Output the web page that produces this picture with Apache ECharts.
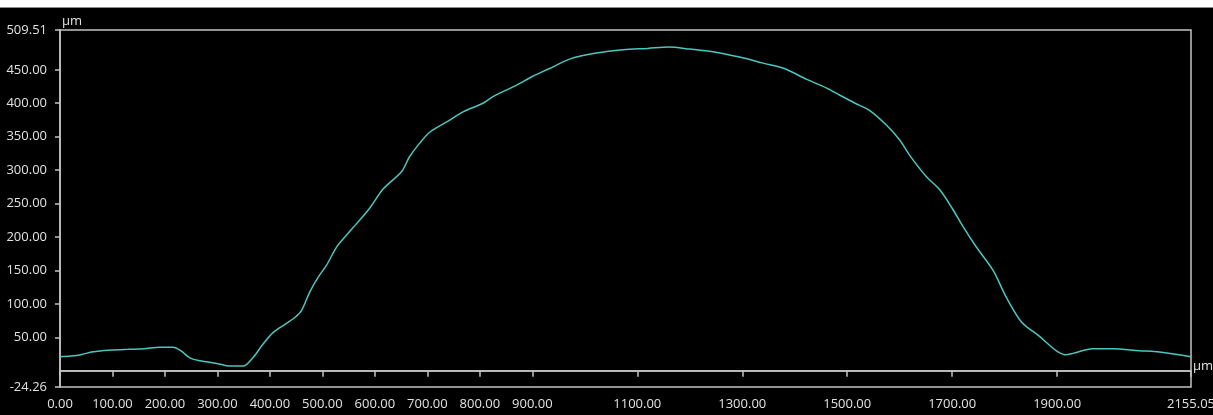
<!DOCTYPE html>
<html>
<head>
<meta charset="utf-8">
<title>Surface profile</title>
<script src="https://cdn.jsdelivr.net/npm/echarts@6/dist/echarts.min.js"></script>
<style>
  html, body { margin: 0; padding: 0; background: #000; }
  #topbar { position: absolute; left: 0; top: 0; width: 1213px; height: 7px; background: #fff; border-bottom: 1px solid #8a8a8a; }
  #chart { width: 1213px; height: 415px; }
</style>
</head>
<body>
<div id="chart"></div>
<div id="topbar"></div>
<script>
// Profile position along the scan (µm)
const positions = [
  0, 20, 40, 60, 80, 100, 130, 160, 190, 215, 230, 248, 267, 299, 324, 349,
  368, 387, 406, 430, 448, 460, 476, 492, 508, 527, 546, 565, 590, 616, 651,
  666, 685, 705, 737, 768, 806, 825, 870, 900, 933, 971, 1022, 1073, 1120,
  1160, 1200, 1244, 1295, 1340, 1380, 1422, 1460, 1486, 1515, 1543, 1575,
  1600, 1619, 1651, 1676, 1700, 1721, 1746, 1778, 1803, 1832, 1867, 1898,
  1916, 1930, 1968, 2006, 2057, 2095, 2155
];
// Measured height at each position (µm)
const heights = [
  21, 22, 24, 28, 30, 31, 32, 33, 35, 35, 30, 19, 15, 11, 7, 7,
  20, 40, 57, 70, 80, 90, 118, 140, 158, 185, 203, 220, 243, 272, 298,
  320, 340, 357, 372, 387, 400, 410, 427, 440, 452, 466, 475, 480, 482,
  484, 481, 477, 469, 460, 452, 436, 423, 412, 400, 389, 367,
  345, 322, 290, 271, 243, 215, 185, 150, 110, 73, 51, 30,
  24, 26, 33, 33, 30, 28, 21
];
// Axis tick values
const xTicks = [0, 100, 200, 300, 400, 500, 600, 700, 800, 900, 1100, 1300, 1500, 1700, 1900, 2155.05];
const yTicks = [-24.26, 50, 100, 150, 200, 250, 300, 350, 400, 450, 509.51];
const xMin = 0, xMax = 2155.05;
const yMin = -24.26, yMax = 509.51;

const chart = echarts.init(document.getElementById('chart'), null, { renderer: 'canvas' });
const axisGray = '#c4c4c4';
const labelStyle = { color: '#e2e2e2', fontFamily: 'Open Sans', fontSize: 13 };

chart.setOption({
  backgroundColor: '#000',
  animation: false,
  grid: {
    left: 60, right: 22, top: 30, bottom: 28,
    outerBoundsMode: 'none',
    containLabel: false,
    show: true, borderColor: axisGray, borderWidth: 1.5, backgroundColor: 'transparent'
  },
  xAxis: {
    type: 'value', min: xMin, max: xMax,
    name: 'µm', nameLocation: 'end', nameGap: 2,
    nameTextStyle: { color: '#e2e2e2', fontFamily: 'Open Sans', fontSize: 13, verticalAlign: 'bottom', padding: [0, 0, -2, 0] },
    axisLine: { show: true, lineStyle: { color: axisGray, width: 1.5 } },
    axisTick: { show: true, customValues: xTicks, length: 6, lineStyle: { color: axisGray, width: 1.5 } },
    axisLabel: Object.assign({ customValues: xTicks, margin: 11, hideOverlap: false,
      formatter: v => Number(v).toFixed(2) }, labelStyle),
    splitLine: { show: false }
  },
  yAxis: {
    type: 'value', min: yMin, max: yMax,
    name: 'µm', nameLocation: 'end', nameGap: 2,
    nameTextStyle: { color: '#e2e2e2', fontFamily: 'Open Sans', fontSize: 13, align: 'left', padding: [0, 0, 0, 2] },
    axisLine: { show: true, lineStyle: { color: axisGray, width: 1.5 } },
    axisTick: { show: true, customValues: yTicks, length: 5, lineStyle: { color: axisGray, width: 1.5 } },
    axisLabel: Object.assign({ customValues: yTicks, margin: 13, hideOverlap: false,
      formatter: v => Number(v).toFixed(2) }, labelStyle),
    splitLine: { show: false }
  },
  series: [{
    type: 'line',
    data: positions.map((x, i) => [x, heights[i]]),
    smooth: 0.3,
    symbol: 'none',
    lineStyle: { color: '#4cc6be', width: 1.5 },
    markLine: {
      silent: true, symbol: 'none',
      label: { show: false },
      lineStyle: { color: axisGray, width: 1.5, type: 'solid' },
      data: [{ yAxis: 0 }]
    }
  }]
});
</script>
</body>
</html>
